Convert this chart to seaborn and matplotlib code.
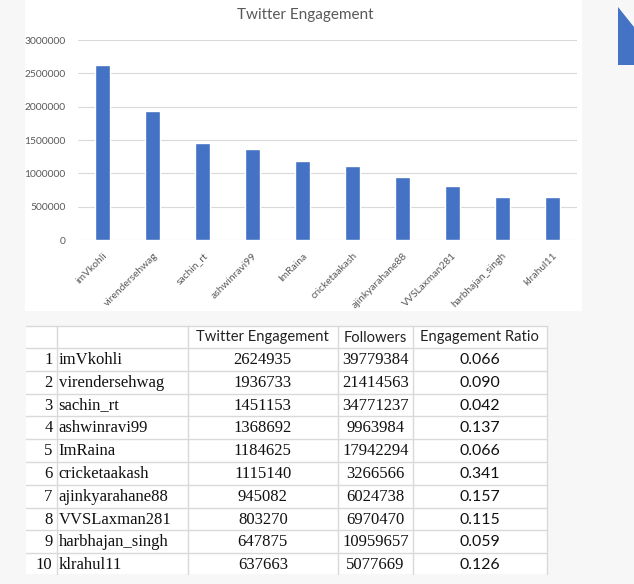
import matplotlib
matplotlib.use("Agg")
import matplotlib.pyplot as plt
import seaborn as sns
import pandas as pd
from matplotlib.patches import Rectangle, Polygon

handles = ["imVkohli", "virendersehwag", "sachin_rt", "ashwinravi99", "ImRaina",
           "cricketaakash", "ajinkyarahane88", "VVSLaxman281", "harbhajan_singh", "klrahul11"]
engagement = [2624935, 1936733, 1451153, 1368692, 1184625, 1115140, 945082, 803270, 647875, 637663]
followers = [39779384, 21414563, 34771237, 9963984, 17942294, 3266566, 6024738, 6970470, 10959657, 5077669]
ratio = [0.066, 0.090, 0.042, 0.137, 0.066, 0.341, 0.157, 0.115, 0.059, 0.126]
yticks = [0, 500000, 1000000, 1500000, 2000000, 2500000, 3000000]
headers = ["Twitter Engagement", "Followers", "Engagement Ratio"]

df = pd.DataFrame({"handle": handles, "Twitter Engagement": engagement,
                   "Followers": followers, "Engagement Ratio": ratio})

sns.set_style("white")
plt.rcParams["font.family"] = ["Lato", "DejaVu Sans"]

W, H = 634, 584
fig = plt.figure(figsize=(W / 100, H / 100), dpi=100, facecolor="#f7f7f7")

# background layer in pixel coords
bg = fig.add_axes([0, 0, 1, 1])
bg.set_xlim(0, W)
bg.set_ylim(H, 0)
bg.axis("off")
bg.add_patch(Rectangle((25, 0), 557, 311, facecolor="white", edgecolor="none"))
bg.add_patch(Polygon([(618, 7), (634, 27), (634, 65), (618, 65)], closed=True,
                     facecolor="#4472C4", edgecolor="none"))
bg.text(305, 15, "Twitter Engagement", ha="center", va="center", fontsize=11, color="#595959")

# table
col_x = [26, 56.7, 188, 337.6, 413, 546.7]
top, head_h, row_h = 326, 22, 22.8
n = len(df)
bottom = top + head_h + n * row_h - 2
bg.add_patch(Rectangle((col_x[0], top), col_x[-1] - col_x[0], bottom - top,
                       facecolor="white", edgecolor="none"))
line_c = "#d9d9d9"
for i in range(n + 1):
    y = top if i == 0 else top + head_h + (i - 1) * row_h
    bg.plot([col_x[0], col_x[-1]], [y, y], color=line_c, lw=1)
for x in col_x[1:]:
    bg.plot([x, x], [top, bottom], color=line_c, lw=1)
centers = [(col_x[i] + col_x[i + 1]) / 2 for i in range(2, 5)]
for c, h in zip(centers, headers):
    bg.text(c, top + head_h / 2 + 0.5, h, ha="center", va="center", fontsize=10.6, color="#222222")
serif = ["Liberation Serif", "DejaVu Serif"]
for i, row in df.iterrows():
    yc = top + head_h + i * row_h + row_h / 2 + 0.5
    bg.text(52.6, yc, str(i + 1), ha="right", va="center", fontsize=12, family=serif, color="#111111")
    bg.text(58.6, yc, row["handle"], ha="left", va="center", fontsize=12, family=serif, color="#111111")
    bg.text(centers[0], yc, str(row["Twitter Engagement"]), ha="center", va="center",
            fontsize=12, family=serif, color="#111111")
    bg.text(centers[1], yc, str(row["Followers"]), ha="center", va="center",
            fontsize=12, family=serif, color="#111111")
    bg.text(centers[2], yc, f"{row['Engagement Ratio']:.3f}", ha="center", va="center",
            fontsize=11.4, color="#111111")

# bar chart
ax = fig.add_axes([78 / W, 1 - 240 / H, 499 / W, 200 / H])
ax.patch.set_alpha(0)
sns.barplot(data=df, x="handle", y="Twitter Engagement", color="#4472C4",
            saturation=1, width=0.3, ax=ax, zorder=3)
ax.set_xlim(-0.5, n - 0.5)
ax.set_ylim(0, 3000000)
ax.set_yticks(yticks)
ax.set_yticklabels([str(v) for v in yticks])
ax.yaxis.grid(True, color="#d9d9d9", lw=0.8, zorder=0)
ax.set_axisbelow(True)
for s in ax.spines.values():
    s.set_visible(False)
ax.set_xlabel("")
ax.set_ylabel("")
ax.tick_params(axis="both", length=0, colors="#595959", labelsize=7.4)
ax.tick_params(axis="y", pad=9)
ax.tick_params(axis="x", pad=8)
plt.setp(ax.get_xticklabels(), rotation=45, ha="right", rotation_mode="anchor")

fig.savefig("out.png", dpi=100, facecolor=fig.get_facecolor())
